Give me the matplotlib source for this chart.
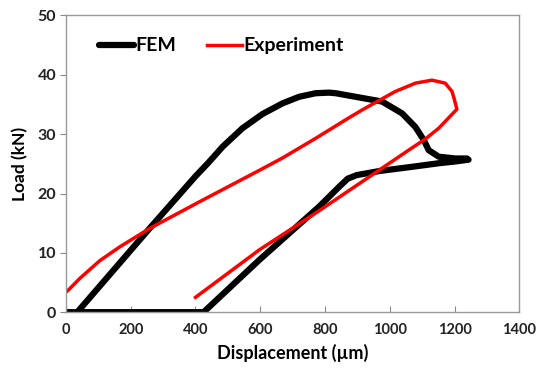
import matplotlib
matplotlib.use("Agg")
import matplotlib.pyplot as plt

# FEM curve (displacement um, load kN)
fem_x = [35, 258, 400, 440, 484, 545, 607, 669, 720, 771, 812, 833, 894, 976, 1038,
         1079, 1105, 1120, 1151, 1202, 1238, 1243, 1202, 1151, 1069, 969, 898, 870, 843,
         782, 597, 425, 300, 150, 0]
fem_y = [0, 14.1, 22.9, 25.2, 27.9, 31.0, 33.4, 35.2, 36.3, 36.9, 37.0, 36.9, 36.3, 35.5, 33.5,
         31.2, 29.0, 27.3, 26.2, 25.9, 25.9, 25.7, 25.4, 25.1, 24.5, 23.8, 23.1, 22.5, 21.1,
         17.8, 8.8, 0, 0, 0, 0]

# Experiment curve
exp_x = [-3, -3, 7, 43, 105, 166, 258, 412, 597, 669, 771, 872, 915, 1017, 1079,
         1130, 1171, 1192, 1200, 1207, 1151, 1110, 1058, 782, 597, 400]
exp_y = [0, 3.2, 3.7, 5.7, 8.7, 11.0, 14.1, 18.6, 23.9, 26.0, 29.3, 32.7, 34.1, 37.2, 38.6,
         39.1, 38.6, 37.2, 35.7, 34.2, 31.0, 29.2, 27.3, 17.1, 10.5, 2.5]

plt.rcParams['font.family'] = ['Lato', 'DejaVu Sans']
plt.rcParams['font.weight'] = 'bold'

fig = plt.figure(figsize=(5.36, 3.69), dpi=100)
ax = fig.add_axes([0.123, 0.154, 0.846, 0.804])

ax.plot(fem_x, fem_y, color='black', linewidth=4.5, label='FEM',
        solid_capstyle='round', solid_joinstyle='round')
ax.plot(exp_x, exp_y, color='#ff0000', linewidth=2.5, label='Experiment',
        solid_joinstyle='round')

ax.set_xlim(0, 1400)
ax.set_ylim(0, 50)
ax.set_xticks(range(0, 1401, 200))
ax.set_yticks(range(0, 51, 10))
ax.tick_params(axis='x', direction='in', length=4, color='#888888', labelsize=10.5, pad=8)
ax.tick_params(axis='y', direction='out', length=4, color='#888888', labelsize=11.5, pad=3)
for lab in ax.get_xticklabels() + ax.get_yticklabels():
    lab.set_fontweight('bold')
    lab.set_color('#222222')
for s in ax.spines.values():
    s.set_color('#999999')
    s.set_linewidth(1)

ax.set_xlabel('Displacement (µm)', fontsize=13, fontweight='bold', labelpad=5)
ax.set_ylabel('Load (kN)', fontsize=12.5, fontweight='bold', labelpad=7)

leg = ax.legend(loc='upper left', ncol=2, frameon=False, fontsize=14,
                handlelength=1.8, handletextpad=0.05, columnspacing=1.6,
                bbox_to_anchor=(0.035, 0.985))
for t in leg.get_texts():
    t.set_fontweight('bold')

fig.savefig('out.png', dpi=100)
